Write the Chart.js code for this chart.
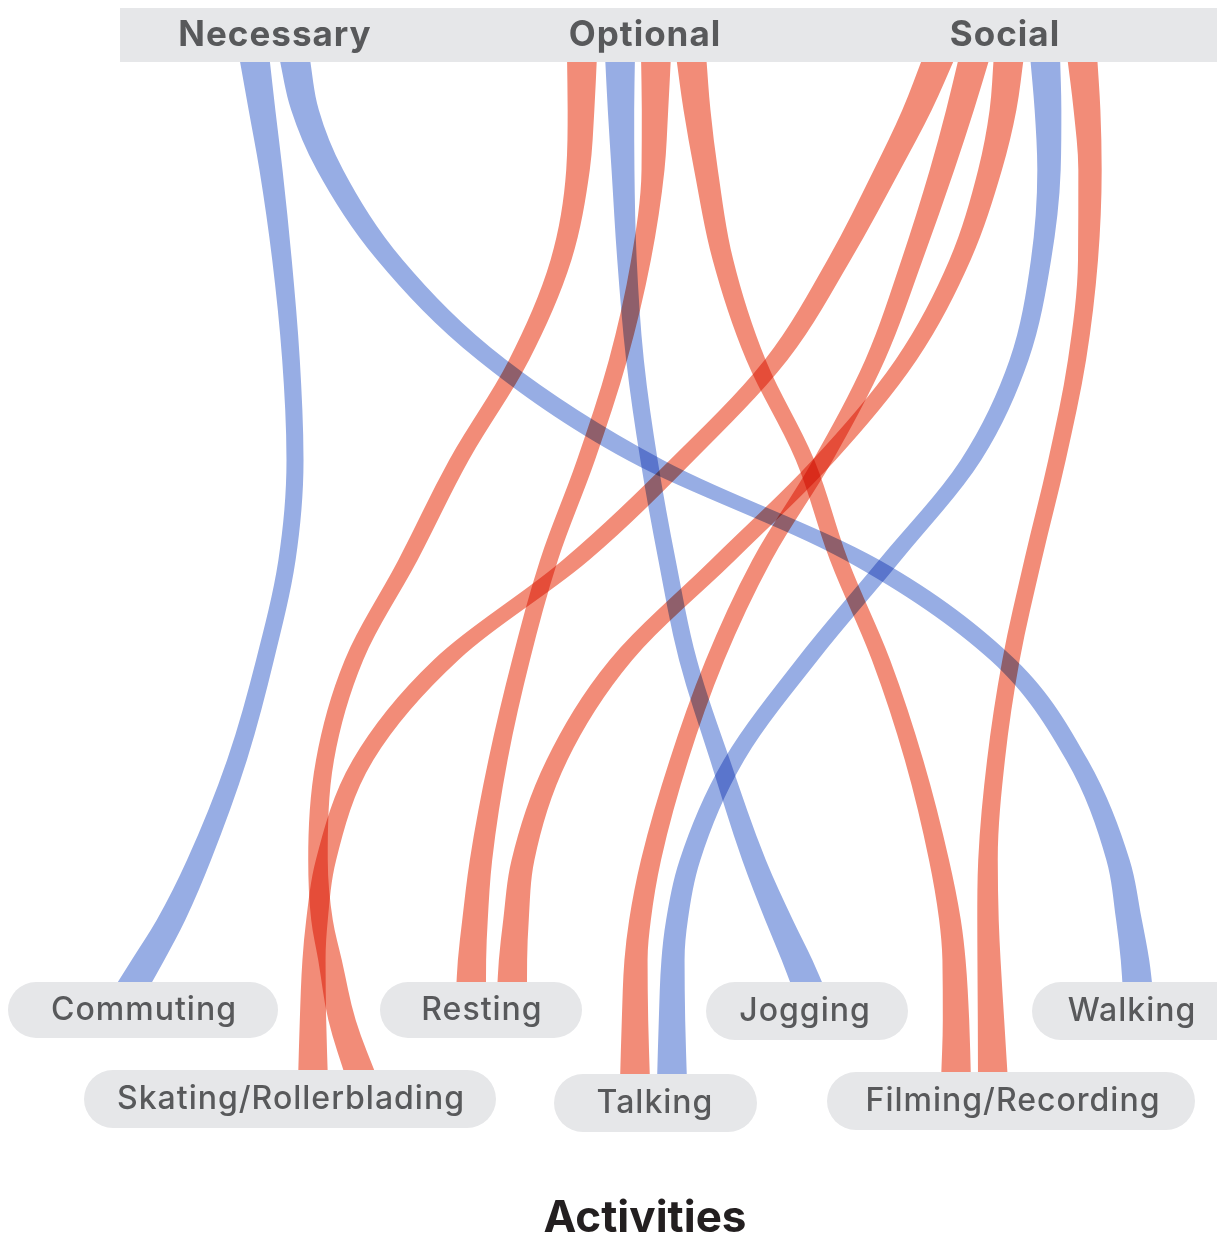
<!DOCTYPE html>
<html>
<head>
<meta charset="utf-8">
<script src="https://cdn.jsdelivr.net/npm/chart.js@4.4.0/dist/chart.umd.min.js"></script>
<style>
  html, body { margin: 0; padding: 0; background: #fff; }
  #wrap { width: 1217px; height: 1238px; }
</style>
</head>
<body>
<div id="wrap"><canvas id="Chart1"></canvas></div>
<script>
// categories along the top, activities along the bottom
var categories = ['Necessary', 'Optional', 'Social'];
var activities = ['Commuting', 'Skating/Rollerblading', 'Resting', 'Talking', 'Jogging', 'Filming/Recording', 'Walking'];
var activityRow = [0, 1, 0, 1, 0, 1, 0];

// depth levels (y) where each ribbon was read, then the tail down to its activity
var depth = [55, 110, 170, 260, 360, 460, 560, 660, 760, 860, 920, 960];
var tailNear = [992];
var tailFar = [1020, 1082];

// links: source category, target activity, group (0 = blue, 1 = red)
var linkSource = [0, 0, 1, 1, 1, 1, 2, 2, 2, 2, 2];
var linkTarget = [0, 6, 1, 4, 2, 5, 1, 3, 2, 3, 5];
var linkGroup  = [0, 0, 1, 0, 1, 1, 1, 1, 1, 0, 1];

// ribbon centre x at each depth level
var necCommuting   = [254, 262, 271, 282, 291, 295, 287, 265, 237, 199, 171, 148, 129];
var necWalking     = [294, 305, 330, 390, 492, 645, 862, 1003, 1077, 1118, 1129, 1135, 1138];
var optSkating     = [582, 581, 578, 561, 519, 459, 408, 354, 325, 318, 322, 330, 342, 363];
var optJogging     = [620, 621, 623, 627, 635, 649, 667, 688, 720, 754, 779, 797, 810];
var optResting     = [656, 655, 653, 641, 618, 586, 549, 521, 498, 481, 475, 472, 471];
var optFilming     = [691, 697, 706, 723, 756, 805, 839, 881, 914, 939, 950, 954, 956, 956];
var socSkating     = [940, 917, 887, 839, 776, 682, 576, 446, 363, 326, 317, 314, 313, 313];
var socTalkingRed  = [975, 960, 942, 912, 875, 823, 762, 715, 679, 651, 640, 636, 635, 635];
var socResting     = [1009, 1003, 990, 960, 906, 824, 723, 621, 557, 523, 516, 513, 512];
var socTalkingBlue = [1045, 1048, 1049, 1041, 1019, 971, 890, 807, 734, 690, 677, 673, 672, 672];
var socFilming     = [1082, 1087, 1090, 1088, 1077, 1057, 1033, 1011, 996, 988, 988, 989, 991, 993];

var linkPaths = [necCommuting, necWalking, optSkating, optJogging, optResting, optFilming,
                 socSkating, socTalkingRed, socResting, socTalkingBlue, socFilming];

var groupColors = ['#97ade4', '#f28c78'];

// ribbon ends: bottom of the header bar, top of each row of activity labels
var TOP = 63;
var rowTop = [982, 1072];

function ribbonPoints(i) {
  var row = activityRow[linkTarget[i]];
  var levels = depth.concat(row ? tailFar : tailNear);
  return linkPaths[i].map(function (x, k) { return { x: x, y: levels[k] }; });
}

// ribbons are ~30px wide where they meet the labels and ~17px in the middle;
// each one is filled between a left and a right edge line
function ribbonEdges(i) {
  var pts = ribbonPoints(i);
  var bottom = rowTop[activityRow[linkTarget[i]]];
  var left = [], right = [];
  pts.forEach(function (p, k) {
    var a = pts[Math.max(0, k - 1)], b = pts[Math.min(pts.length - 1, k + 1)];
    var s = (b.x - a.x) / (b.y - a.y);
    var t = Math.min(1, Math.max(0, (p.y - TOP) / (bottom - TOP)));
    var w = 17 + 13 * Math.pow(Math.abs(2 * t - 1), 3);
    var h = w / 2 * Math.sqrt(1 + s * s);
    left.push({ x: p.x - h, y: p.y });
    right.push({ x: p.x + h, y: p.y });
  });
  return [left, right];
}

var datasets = [];
linkPaths.forEach(function (p, i) {
  var edges = ribbonEdges(i);
  var name = categories[linkSource[i]] + ' - ' + activities[linkTarget[i]];
  datasets.push({
    label: name,
    data: edges[0],
    borderWidth: 0,
    backgroundColor: groupColors[linkGroup[i]],
    fill: '+1',
    cubicInterpolationMode: 'monotone',
    pointRadius: 0
  });
  datasets.push({
    label: name + ' (edge)',
    data: edges[1],
    borderWidth: 0,
    fill: false,
    cubicInterpolationMode: 'monotone',
    pointRadius: 0
  });
});

// label layout
var headerBox = [120, 8, 1217, 62];
var categoryX = [275, 645, 1005];
var activityBoxes = [
  [8, 982, 278, 1038],
  [84, 1070, 496, 1128],
  [380, 982, 582, 1038],
  [554, 1074, 757, 1132],
  [706, 982, 908, 1040],
  [827, 1072, 1195, 1130],
  [1032, 982, 1250, 1040]
];
var activityTextX = [144, 291, 482, 655, 805, 1013, 1132];

var labelPlugin = {
  id: 'labels',
  beforeDatasetsDraw: function (chart) {
    chart.ctx.save();
    chart.ctx.globalCompositeOperation = 'multiply';
  },
  afterDatasetsDraw: function (chart) {
    var ctx = chart.ctx;
    ctx.restore();
    var sx = chart.scales.x, sy = chart.scales.y;
    ctx.save();
    ctx.fillStyle = '#e6e7e9';
    ctx.fillRect(sx.getPixelForValue(headerBox[0]), sy.getPixelForValue(headerBox[1]),
      sx.getPixelForValue(headerBox[2]) - sx.getPixelForValue(headerBox[0]),
      sy.getPixelForValue(headerBox[3]) - sy.getPixelForValue(headerBox[1]));
    ctx.fillStyle = '#58595b';
    ctx.textAlign = 'center';
    ctx.textBaseline = 'middle';
    ctx.font = 'bold 35px Inter';
    ctx.letterSpacing = '1px';
    categories.forEach(function (c, i) {
      ctx.fillText(c, sx.getPixelForValue(categoryX[i]), sy.getPixelForValue(35));
    });

    ctx.font = '500 32px Inter';
    activities.forEach(function (a, i) {
      var b = activityBoxes[i];
      var x0 = sx.getPixelForValue(b[0]), y0 = sy.getPixelForValue(b[1]);
      var x1 = sx.getPixelForValue(b[2]), y1 = sy.getPixelForValue(b[3]);
      ctx.fillStyle = '#e6e7e9';
      ctx.beginPath();
      ctx.roundRect(x0, y0, x1 - x0, y1 - y0, (y1 - y0) / 2);
      ctx.fill();
      ctx.fillStyle = '#58595b';
      ctx.fillText(a, sx.getPixelForValue(activityTextX[i]), (y0 + y1) / 2);
    });

    ctx.letterSpacing = '0px';
    ctx.fillStyle = '#231f20';
    ctx.font = 'bold 44px Inter';
    ctx.fillText('Activities', sx.getPixelForValue(645), sy.getPixelForValue(1219));
    ctx.restore();
  }
};

var context = document.getElementById('Chart1').getContext('2d');
var myChart = new Chart(context, {
  type: 'line',
  data: { datasets: datasets },
  options: {
    indexAxis: 'y',
    responsive: true,
    maintainAspectRatio: false,
    animation: false,
    events: [],
    layout: { padding: 0 },
    plugins: { legend: { display: false }, tooltip: { enabled: false }, title: { display: false } },
    scales: {
      x: { type: 'linear', min: 0, max: 1217, display: false },
      y: { type: 'linear', min: 0, max: 1238, reverse: true, display: false }
    }
  },
  plugins: [labelPlugin]
});
</script>
</body>
</html>
